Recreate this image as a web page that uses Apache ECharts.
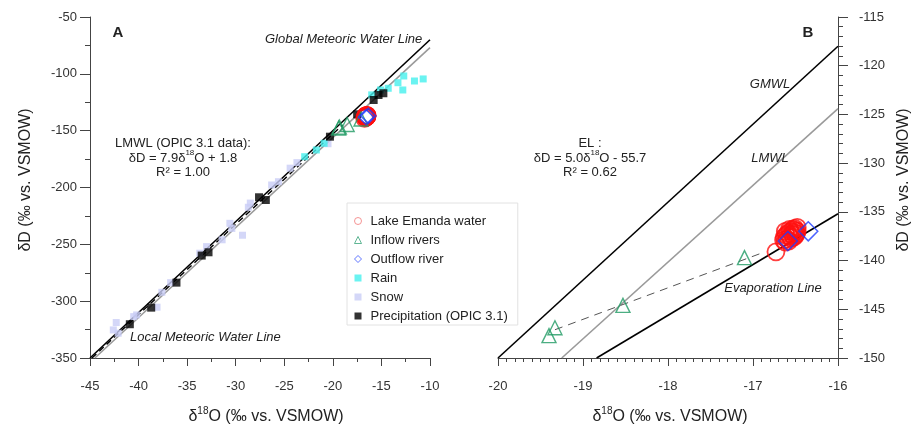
<!DOCTYPE html>
<html><head><meta charset="utf-8">
<script src="https://cdn.jsdelivr.net/npm/echarts@6/dist/echarts.min.js"></script>
<style>html,body{margin:0;padding:0;background:#fff}#c{width:916px;height:425px}</style>
</head><body><div id="c"></div>
<script>
// ---------- data (delta18O, deltaD) ----------
const lakeData = [[-16.73,-139.1],[-16.64,-137.9],[-16.63,-137.6],[-16.62,-138.1],[-16.61,-137.4],[-16.60,-137.8],
  [-16.59,-137.2],[-16.58,-138.0],[-16.57,-137.5],[-16.56,-137.0],[-16.55,-137.7],[-16.54,-137.3],[-16.53,-136.8],
  [-16.52,-137.6],[-16.52,-137.1],[-16.51,-136.7],[-16.50,-137.4],[-16.50,-136.9],[-16.49,-137.2],[-16.48,-136.6],
  [-16.48,-137.0],[-16.57,-136.8],[-16.62,-137.0]];
const inflowData = [[-19.40,-147.7],[-19.33,-146.9],[-18.53,-144.6],[-17.10,-139.7]];
const outflowData = [[-16.59,-138.0],[-16.35,-137.0]];
const rainData = [[-22.9,-172.9],[-21.7,-167.0],[-20.9,-161.1],[-16.0,-118.5],[-15.1,-114.2],[-14.3,-112.7],
  [-13.3,-107.8],[-12.7,-101.9],[-12.8,-114.2],[-11.6,-106.3],[-10.7,-104.5]];
const snowData = [[-42.6,-325.3],[-42.1,-328.2],[-42.3,-318.8],[-40.5,-313.6],[-40.2,-312.1],[-38.1,-305.3],
  [-37.6,-292.2],[-36.7,-283.7],[-33.7,-257.8],[-33.0,-252.0],[-31.4,-246.0],[-30.4,-236.0],[-30.6,-231.5],
  [-29.3,-242.0],[-28.7,-217.4],[-28.5,-213.7],[-26.3,-197.8],[-25.6,-194.9],[-24.4,-183.0],[-23.7,-178.1],[-20.5,-161.5]];
const precipData = [[-40.9,-320.3],[-38.7,-305.7],[-36.1,-283.7],[-33.5,-259.9],[-32.8,-257.0],[-27.6,-208.6],
  [-26.9,-211.0],[-20.3,-155.3],[-17.5,-135.6],[-15.8,-123.0],[-15.3,-118.6],[-14.8,-117.1]];
// reference lines (end points)
const gmwlA = [[-45,-350],[-10,-70]];
const lmwlA = [[-44.5,-350],[-10,-77]];
const fitA = [[-44.8,-350],[-19,-145]];
const gmwlB = [[-20,-150],[-16,-118]];
const lmwlB = [[-19.25,-150],[-16,-124.4]];
const elB = [[-18.84,-150],[-16,-135.2]];
const mixB = [[-19.33,-147.1],[-16.92,-139.3]];
// axis ranges / ticks
const xA = {min:-45, max:-10, step:5};
const yA = {min:-350, max:-50, step:50};
const xB = {min:-20, max:-16, step:1};
const yB = {min:-150, max:-115, step:5};
const seriesNames = ['Lake Emanda water','Inflow rivers','Outflow river','Rain','Snow','Precipitation (OPIC 3.1)'];

const FONT = '"Liberation Sans", Arial, sans-serif';
const AX = '#444';
function axis(o){
  return Object.assign({
    type:'value', splitLine:{show:false},
    axisLine:{show:true, onZero:false, lineStyle:{color:AX, width:1}},
    axisTick:{show:true, inside:false, length:8, lineStyle:{color:AX}},
    minorTick:{show:true, length:4, lineStyle:{color:AX}},
    axisLabel:{fontFamily:FONT, fontSize:13, color:'#333'}
  }, o);
}
function line(data, xi, color, width, type){
  return {type:'line', xAxisIndex:xi, yAxisIndex:xi, data:data, symbol:'none', showSymbol:false, silent:true,
    lineStyle:{color:color, width:width, type:type||'solid'}, z:1, animation:false};
}
const RED='#ff1010', GREEN='#1f9a63', BLUE='#1f3cff', CYAN='#45f0ee', SNOW='#c9cdf6';
function lake(xi){return {type:'scatter', name:seriesNames[0], xAxisIndex:xi, yAxisIndex:xi, data:lakeData, symbol:'circle', symbolSize:17,
  itemStyle:{color:'rgba(0,0,0,0)', borderColor:RED, borderWidth:1.8}, z:3};}
function inflow(xi,s){return {type:'scatter', name:seriesNames[1], xAxisIndex:xi, yAxisIndex:xi, data:inflowData, symbol:'triangle', symbolSize:s,
  itemStyle:{color:'rgba(0,0,0,0)', borderColor:GREEN, borderWidth:1.4}, z:4};}
function outflow(xi,s){return {type:'scatter', name:seriesNames[2], xAxisIndex:xi, yAxisIndex:xi, data:outflowData, symbol:'diamond', symbolSize:s,
  itemStyle:{color:'rgba(0,0,0,0)', borderColor:BLUE, borderWidth:1.5}, z:5};}

const chart = echarts.init(document.getElementById('c'), null, {renderer:'canvas'});
const T = (x,y,text,extra)=>({type:'text', x:x, y:y, silent:true, z:100,
  style:Object.assign({text:text, font:'13px '+FONT, fill:'#222', align:'center', verticalAlign:'middle'}, extra||{})});
const supRich = (fs)=>({a:{fontSize:fs, fontFamily:FONT, fill:'#222', lineHeight:Math.round(fs*1.4)},
  s:{fontSize:Math.round(fs*0.62), fontFamily:FONT, fill:'#222', lineHeight:Math.round(fs*0.75), verticalAlign:'top'}});

chart.setOption({
  animation:false,
  backgroundColor:'#fff',
  grid:[
    {left:90, top:17, width:340, height:341, containLabel:false, outerBoundsMode:'none'},
    {left:498, top:17, width:340, height:341, containLabel:false, outerBoundsMode:'none'}
  ],
  xAxis:[
    axis({gridIndex:0, min:xA.min, max:xA.max, interval:xA.step, minorTick:{show:true,splitNumber:2,length:4,lineStyle:{color:AX}},
      axisLabel:{fontFamily:FONT, fontSize:13, color:'#333', margin:22}}),
    axis({gridIndex:1, min:xB.min, max:xB.max, interval:xB.step, minorTick:{show:true,splitNumber:10,length:4,lineStyle:{color:AX}},
      axisLabel:{fontFamily:FONT, fontSize:13, color:'#333', margin:22}})
  ],
  yAxis:[
    axis({gridIndex:0, min:yA.min, max:yA.max, interval:yA.step, position:'left', minorTick:{show:true,splitNumber:2,length:5,lineStyle:{color:AX}},
      axisTick:{show:true, inside:false, length:10, lineStyle:{color:AX}},
      axisLabel:{fontFamily:FONT, fontSize:13, color:'#333', margin:13}}),
    axis({gridIndex:1, min:yB.min, max:yB.max, interval:yB.step, position:'right', minorTick:{show:true,splitNumber:5,length:5,lineStyle:{color:AX}},
      axisTick:{show:true, inside:false, length:10, lineStyle:{color:AX}},
      axisLabel:{fontFamily:FONT, fontSize:13, color:'#333', margin:21}})
  ],
  legend:{
    orient:'vertical', left:347, top:203, padding:[11,10,2,7],
    backgroundColor:'#fff', borderColor:'#e2e2e2', borderWidth:1,
    itemWidth:7, itemHeight:7, itemGap:5, selectedMode:false,
    textStyle:{fontFamily:FONT, fontSize:13, color:'#222', lineHeight:14, padding:[0,0,0,4]},
    data:[
      {name:seriesNames[0], icon:'circle', itemStyle:{color:'rgba(0,0,0,0)', borderColor:'#f27a7a', borderWidth:1}},
      {name:seriesNames[1], icon:'triangle', itemStyle:{color:'rgba(0,0,0,0)', borderColor:'#3aa57a', borderWidth:1}},
      {name:seriesNames[2], icon:'diamond', itemStyle:{color:'rgba(0,0,0,0)', borderColor:'#3a55ff', borderWidth:1}},
      {name:seriesNames[3], icon:'rect', itemStyle:{color:CYAN}},
      {name:seriesNames[4], icon:'rect', itemStyle:{color:SNOW}},
      {name:seriesNames[5], icon:'rect', itemStyle:{color:'#000'}}
    ]
  },
  series:[
    line(gmwlA,0,'#000',1.6),
    line(lmwlA,0,'#9a9a9a',1.6),
    {type:'scatter', name:seriesNames[4], xAxisIndex:0, yAxisIndex:0, data:snowData, symbol:'rect', symbolSize:7, itemStyle:{color:SNOW}, z:2},
    {type:'scatter', name:seriesNames[3], xAxisIndex:0, yAxisIndex:0, data:rainData, symbol:'rect', symbolSize:7, itemStyle:{color:CYAN}, z:2},
    Object.assign(line(fitA,0,'#000',1.4,[6,4]),{z:2}),
    {type:'scatter', name:seriesNames[5], xAxisIndex:0, yAxisIndex:0, data:precipData, symbol:'rect', symbolSize:8, itemStyle:{color:'#000'}, z:3},
    lake(0), inflow(0,14), outflow(0,15),
    line(gmwlB,1,'#000',1.6),
    line(lmwlB,1,'#9a9a9a',1.6),
    line(elB,1,'#000',1.6),
    line(mixB,1,'#555',1,[8,6]),
    lake(1), inflow(1,14), outflow(1,19)
  ],
  graphic:[
    T(118,33,'A',{font:'bold 15px '+FONT}),
    T(808,33,'B',{font:'bold 15px '+FONT}),
    T(265,39,'Global Meteoric Water Line',{font:'italic 13px '+FONT, align:'left'}),
    T(183,143,'LMWL (OPIC 3.1 data):'),
    T(183,158,'{a|δD = 7.9δ}{s|18}{a|O + 1.8}',{rich:supRich(13)}),
    T(183,172,'R² = 1.00'),
    T(130,337,'Local Meteoric Water Line',{font:'italic 13px '+FONT, align:'left'}),
    T(770,84,'GMWL',{font:'italic 13px '+FONT}),
    T(770,158,'LMWL',{font:'italic 13px '+FONT}),
    T(590,143,'EL :'),
    T(590,158,'{a|δD = 5.0δ}{s|18}{a|O - 55.7}',{rich:supRich(13)}),
    T(590,172,'R² = 0.62'),
    T(773,288,'Evaporation Line',{font:'italic 13px '+FONT}),
    T(266,417,'{a|δ}{s|18}{a|O (‰ vs. VSMOW)}',{rich:supRich(16)}),
    T(670,417,'{a|δ}{s|18}{a|O (‰ vs. VSMOW)}',{rich:supRich(16)}),
    {type:'text', x:26, y:180, rotation:Math.PI/2, silent:true,
      style:{text:'δD (‰ vs. VSMOW)', font:'16px '+FONT, fill:'#222', align:'center', verticalAlign:'middle'}},
    {type:'text', x:904, y:180, rotation:Math.PI/2, silent:true,
      style:{text:'δD (‰ vs. VSMOW)', font:'16px '+FONT, fill:'#222', align:'center', verticalAlign:'middle'}}
  ]
});
</script></body></html>
